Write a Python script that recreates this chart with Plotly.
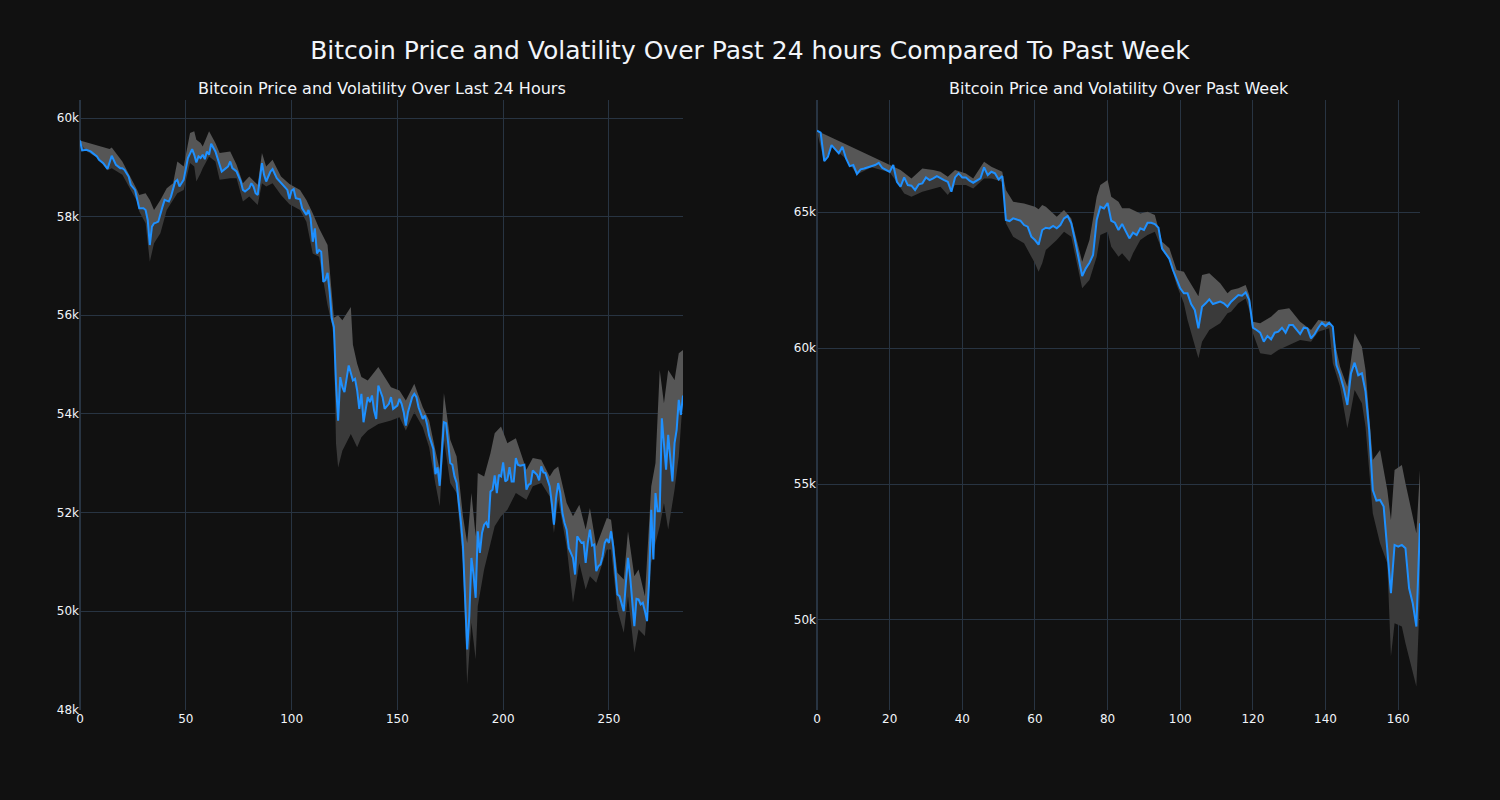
import plotly.graph_objects as go
from plotly.subplots import make_subplots

# ---------------- Last 24 hours (5-minute steps) ----------------
day_x = [0, 1, 3, 5, 6, 8, 9, 11, 13, 15, 17, 19, 20, 21, 23, 24, 26, 27, 28, 30,
         31, 32, 33, 34, 35, 36, 37, 39, 40, 42, 43, 45, 46, 47, 49, 51, 53, 54, 55, 56,
         57, 58, 59, 60, 61, 62, 64, 65, 67, 69, 70, 71, 72, 74, 76, 77, 78, 80, 81, 82,
         83, 84, 86, 87, 88, 90, 91, 93, 95, 96, 98, 99, 100, 101, 102, 104, 105, 107, 108, 109,
         110, 111, 112, 113, 114, 115, 116, 117, 118, 119, 120, 121, 122, 123, 124, 125, 126, 127, 129, 130,
         131, 132, 133, 134, 136, 137, 138, 139, 140, 141, 143, 144, 146, 147, 148, 150, 151, 152, 153, 154,
         155, 157, 158, 159, 160, 161, 162, 163, 164, 165, 167, 168, 169, 170, 171, 172, 173, 174, 175, 176,
         177, 178, 179, 180, 181, 182, 183, 184, 185, 186, 187, 188, 189, 190, 191, 192, 193, 194, 195, 196,
         197, 198, 199, 200, 201, 202, 203, 204, 205, 206, 207, 208, 210, 211, 212, 213, 214, 216, 217, 218,
         219, 220, 221, 222, 223, 224, 225, 226, 227, 228, 229, 230, 231, 233, 234, 235, 236, 237, 238, 239,
         240, 241, 242, 243, 244, 245, 246, 247, 248, 249, 250, 251, 252, 253, 254, 255, 256, 257, 258, 259,
         260, 261, 262, 263, 264, 265, 266, 267, 268, 269, 270, 271, 272, 273, 274, 275, 276, 277, 278, 279,
         280, 281, 282, 283, 284, 285]
day_price = [59546, 59342, 59356, 59322, 59288, 59220, 59153, 59085, 58969, 59234, 59051, 58983, 58983, 58949, 58813, 58644, 58542, 58339, 58169, 58169,
             58135, 57932, 57424, 57797, 57864, 57878, 57898, 58203, 58339, 58305, 58407, 58712, 58746, 58610, 58746, 59186, 59369, 59254, 59098, 59220,
             59186, 59254, 59166, 59322, 59254, 59478, 59322, 59186, 58915, 58983, 59017, 59119, 58983, 58915, 58712, 58542, 58508, 58576, 58678, 58610,
             58475, 58441, 59085, 58847, 58712, 58915, 58963, 58780, 58678, 58644, 58542, 58359, 58529, 58556, 58373, 58352, 58169, 58034, 58136, 57966,
             57491, 57763, 57254, 57322, 57288, 56678, 56712, 56861, 56474, 55932, 55763, 54610, 53864, 54746, 54542, 54440, 54678, 54983, 54678, 54712,
             54475, 54102, 54407, 53830, 54339, 54237, 54373, 54068, 53898, 54576, 54339, 54102, 54203, 54339, 54102, 54169, 54305, 54203, 54034, 53762,
             54034, 54339, 54407, 54339, 54135, 54034, 53898, 53966, 53796, 53559, 53288, 52779, 52915, 52542, 53300, 53830, 53811, 53406, 53002, 52968,
             52732, 52597, 52260, 51821, 51316, 50304, 49225, 49899, 51079, 50742, 50270, 51619, 51181, 51585, 51754, 51801, 51686, 52428, 52462, 52752,
             52395, 52766, 52732, 53015, 52631, 52665, 52921, 52631, 52631, 53103, 52968, 52948, 52968, 52462, 52563, 52584, 52853, 52766, 52651, 52934,
             52813, 52799, 52665, 52530, 52192, 51754, 52294, 52597, 52395, 51990, 51788, 51653, 51282, 51079, 50742, 51518, 51450, 51383, 51396, 50978,
             51383, 51653, 51329, 51349, 50810, 50911, 50945, 51113, 51383, 51464, 51383, 51619, 51316, 50843, 50338, 50304, 50169, 50000, 50574, 51079,
             50709, 50101, 49697, 50250, 50237, 50135, 50169, 50000, 49798, 50641, 52057, 51046, 52395, 52024, 52024, 53912, 53339, 52867, 53575, 53170,
             52631, 53406, 53676, 54283, 53980, 54371]

day_upper_x = [0, 14, 15, 20, 27, 28, 31, 33, 35, 38, 41, 44, 46, 49, 52, 54, 55, 57, 58, 61,
               64, 66, 71, 74, 77, 80, 84, 86, 88, 91, 95, 99, 104, 107, 110, 113, 117, 119, 120, 122,
               124, 128, 129, 131, 133, 136, 141, 147, 151, 154, 158, 162, 165, 168, 170, 172, 175, 178, 181, 183,
               185, 187, 188, 191, 194, 196, 199, 202, 206, 211, 214, 218, 222, 224, 226, 230, 233, 236, 239, 241,
               244, 249, 251, 254, 257, 259, 262, 264, 267, 270, 272, 274, 276, 278, 281, 283, 285]
day_upper = [59546, 59369, 59400, 59119, 58542, 58441, 58475, 58339, 58136, 58339, 58576, 58678, 59119, 59017, 59695, 59729, 59559, 59492, 59424, 59729,
             59492, 59288, 59322, 59051, 58678, 58813, 58644, 59288, 59017, 59153, 58813, 58660, 58542, 58339, 58068, 57763, 57424, 56474, 55950, 56000,
             55898, 56169, 55400, 55017, 54746, 54678, 54949, 54542, 54474, 54271, 54610, 54135, 53864, 53254, 52867, 54418, 53474, 53137, 51923, 51383,
             52395, 51518, 52799, 52732, 53204, 53609, 53744, 53406, 53508, 52867, 53103, 53069, 52732, 52867, 52934, 52192, 51923, 52159, 51653, 52091,
             51316, 51889, 51855, 50776, 50641, 51619, 50709, 50843, 50304, 52530, 53002, 54890, 54216, 54890, 54688, 55228, 55295]

day_lower_x = [0, 3, 8, 13, 15, 20, 27, 28, 31, 33, 35, 38, 41, 44, 46, 49, 52, 54, 55, 57,
               58, 61, 64, 66, 71, 74, 77, 80, 84, 86, 88, 91, 95, 99, 104, 107, 110, 113, 117, 119,
               120, 121, 122, 124, 128, 131, 133, 136, 141, 147, 151, 154, 158, 162, 165, 168, 170, 172, 175, 178,
               181, 183, 185, 187, 188, 191, 194, 196, 199, 202, 206, 211, 214, 218, 222, 224, 226, 230, 233, 236,
               239, 241, 244, 249, 251, 254, 257, 259, 262, 264, 267, 270, 272, 274, 276, 278, 281, 283, 285]
day_lower = [59500, 59330, 59200, 58940, 58983, 58847, 58305, 58102, 57864, 57085, 57458, 57661, 58136, 58339, 58475, 58542, 59085, 59017, 58712, 58881,
             58983, 59220, 59119, 58746, 58780, 58780, 58305, 58407, 58237, 58678, 58610, 58678, 58441, 58250, 58136, 57898, 57254, 57186, 56203, 55830,
             55500, 53400, 52915, 53254, 53593, 53322, 53525, 53661, 53796, 53864, 53932, 53661, 54034, 53729, 53322, 52576, 52125, 53474, 52597, 52395,
             50978, 48516, 49764, 49022, 50101, 50843, 51383, 51720, 51923, 52057, 52395, 52260, 52530, 52597, 52327, 51585, 52260, 51315, 50169, 50978,
             50439, 50708, 50574, 51248, 51248, 50034, 49562, 50304, 49157, 49629, 49494, 50978, 51383, 51720, 52192, 51653, 52462, 53137, 54351]

# ---------------- Past week (hourly steps) ----------------
week_x = list(range(0, 14)) + [15, 16, 17, 18, 20, 21, 22, 23, 24, 25, 26, 27, 28, 29, 30, 31, 32, 33, 35, 36,
          37, 38, 39, 40, 41, 42, 43, 45, 46, 47, 48, 49, 50, 51, 52, 53, 54, 56, 57, 58] + list(range(59, 167))
week_price = [67990, 67920, 66870, 67030, 67460, 67300, 67160, 67400, 66970, 66690, 66730, 66400, 66570, 66600,
              66670, 66730, 66810, 66620, 66480, 66730, 66115, 65931, 66274, 65992, 65968, 65809, 66017, 66054, 66274, 66176, 66237, 66323, 66176, 66115,
              65747, 66274, 66421, 66274, 66274, 66152, 66078, 66237, 66642, 66360, 66482, 66421, 66200, 66323, 64706, 64669, 64767, 64682, 64522, 64461,
              64094, 63971, 63800, 64339, 64424, 64400, 64486, 64400, 64522, 64767, 64853, 64584, 63971, 63359, 62648, 62930, 63138, 63420, 64706, 65196,
              65135, 65330, 64681, 64608, 64339, 64559, 64302, 64032, 64241, 64155, 64400, 64339, 64608, 64608, 64559, 64424, 63660, 63460, 63280, 62869,
              62562, 62195, 62011, 62011, 61619, 61399, 60725, 61521, 61644, 61790, 61619, 61668, 61705, 61644, 61521, 61705, 61827, 61950, 61923, 62046,
              61764, 60747, 60662, 60564, 60233, 60441, 60319, 60564, 60600, 60747, 60564, 60845, 60845, 60686, 60515, 60747, 60723, 60355, 60515, 60747,
              60931, 60808, 60931, 60784, 59375, 59008, 58518, 57905, 59069, 59461, 59000, 59069, 58395, 57000, 54780, 54390, 54414, 54169, 52500, 50984,
              52760, 52699, 52760, 52638, 51168, 50616, 49759, 53556]

week_upper_x = [0, 23, 26, 29, 32, 34, 36, 38, 41, 43, 46, 48, 51, 52, 54, 57, 60, 61, 62, 63,
                66, 68, 70, 72, 73, 75, 77, 78, 80, 81, 83, 84, 86, 87, 89, 91, 93, 95, 97, 99,
                101, 102, 105, 106, 108, 111, 113, 114, 116, 118, 119, 120, 122, 125, 127, 130, 133, 136, 138, 141,
                142, 144, 146, 147, 148, 150, 151, 153, 155, 157, 158, 159, 161, 162, 165, 166]
week_upper = [67989, 66544, 66237, 66605, 66544, 66482, 66299, 66544, 66421, 66237, 66850, 66666, 66482, 65809, 65380, 65318, 65196, 65100, 65257, 65196,
              64828, 65073, 64767, 63665, 63175, 63971, 65563, 65992, 66176, 65563, 65380, 65135, 65135, 65073, 64951, 65012, 64890, 63910, 63665, 62869,
              62807, 62562, 61900, 62685, 62746, 62378, 62011, 62132, 62195, 62315, 61948, 60968, 60907, 61152, 61397, 61458, 60968, 60662, 61029, 60968,
              60539, 59314, 58579, 59559, 60539, 60049, 59192, 55884, 56252, 54782, 53679, 55517, 55700, 55027, 53189, 55517]

week_lower_x = [0, 2, 4, 8, 11, 15, 20, 22, 24, 26, 29, 32, 34, 36, 38, 41, 43, 46, 48, 51,
                52, 54, 57, 60, 61, 62, 63, 66, 68, 70, 72, 73, 75, 77, 78, 80, 81, 83, 84, 86,
                87, 89, 91, 93, 95, 97, 99, 101, 102, 105, 106, 108, 111, 113, 114, 116, 118, 119, 120, 122,
                125, 127, 130, 133, 136, 138, 141, 142, 144, 146, 147, 148, 150, 151, 153, 155, 157, 158, 159, 161,
                162, 165, 166]
week_lower = [67952, 66850, 67440, 66950, 66380, 66650, 66460, 66100, 65686, 65564, 65747, 65870, 65931, 65625, 65992, 65992, 65870, 66237, 66237, 66115,
              64584, 64094, 63849, 63113, 62807, 63113, 63604, 63971, 64277, 64094, 62746, 62195, 62501, 63358, 64155, 64277, 63726, 63358, 63481, 63175,
              63481, 63971, 64155, 64277, 63604, 63236, 62317, 61644, 61031, 59622, 60235, 60663, 60908, 61276, 61335, 61644, 61825, 61397, 60539, 59804,
              59743, 59927, 60110, 60294, 60233, 60600, 60723, 59436, 58579, 57048, 57722, 58457, 57967, 57109, 53924, 52822, 52087, 48657, 49882, 49759,
              49146, 47554, 51000]

TITLE = "Bitcoin Price and Volatility Over Past 24 hours Compared To Past Week"
SUB_TITLES = ("Bitcoin Price and Volatility Over Last 24 Hours",
              "Bitcoin Price and Volatility Over Past Week")

LINE_COLOR = "#1E90FF"
BAND_UPPER_COLOR = "rgb(86,86,86)"
BAND_LOWER_COLOR = "rgb(58,58,58)"

fig = make_subplots(rows=1, cols=2, subplot_titles=SUB_TITLES, horizontal_spacing=0.1)


def add_panel(col, x, price, ux, upper, lx, lower):
    fig.add_trace(go.Scatter(x=ux, y=upper, mode="lines", line=dict(width=0),
                             hoverinfo="skip", showlegend=False), row=1, col=col)
    fig.add_trace(go.Scatter(x=x, y=price, mode="lines", line=dict(width=0),
                             fill="tonexty", fillcolor=BAND_UPPER_COLOR,
                             hoverinfo="skip", showlegend=False), row=1, col=col)
    fig.add_trace(go.Scatter(x=lx, y=lower, mode="lines", line=dict(width=0),
                             fill="tonexty", fillcolor=BAND_LOWER_COLOR,
                             hoverinfo="skip", showlegend=False), row=1, col=col)
    fig.add_trace(go.Scatter(x=x, y=price, mode="lines",
                             line=dict(color=LINE_COLOR, width=2),
                             showlegend=False, name="Price"), row=1, col=col)


add_panel(1, day_x, day_price, day_upper_x, day_upper, day_lower_x, day_lower)
add_panel(2, week_x, week_price, week_upper_x, week_upper, week_lower_x, week_lower)

fig.update_layout(
    template="plotly_dark",
    width=1500, height=800,
    title=dict(text=TITLE, x=0.5, xanchor="center", y=0.9375, yanchor="middle",
               font=dict(size=25)),
    font=dict(family="DejaVu Sans"),
    showlegend=False,
    margin=dict(l=80, r=80, t=100, b=90),
)
fig.update_annotations(font=dict(size=16))
fig.update_xaxes(range=[0, 285], row=1, col=1)
fig.update_xaxes(range=[0, 166], row=1, col=2)
fig.update_yaxes(range=[47995, 60365], dtick=2000, row=1, col=1)
fig.update_yaxes(range=[46690, 69120], dtick=5000, row=1, col=2)

fig.write_html("out.html",
               config={"displayModeBar": False},
               post_script="document.body.style.margin='0';"
                           "document.body.style.background='#111111';")
